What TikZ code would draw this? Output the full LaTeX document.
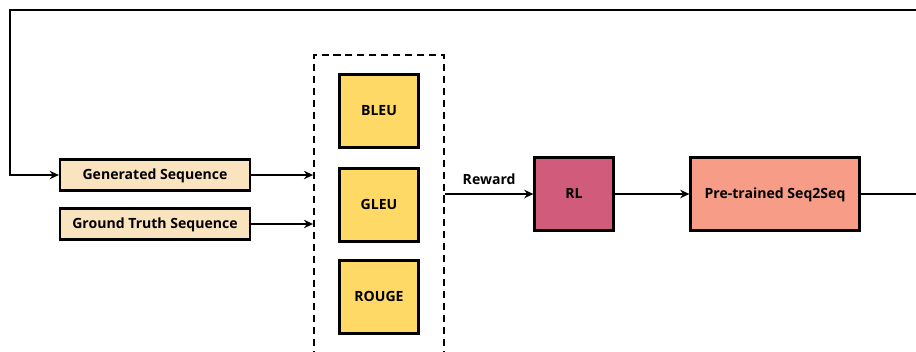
\documentclass[tikz,border=0pt]{standalone}
\usepackage{fontspec}
\setmainfont{Open Sans}
\usetikzlibrary{arrows.meta}

\definecolor{seqfill}{HTML}{FAE3BF}
\definecolor{metricfill}{HTML}{FFD966}
\definecolor{rlfill}{HTML}{D15B7A}
\definecolor{modelfill}{HTML}{F69C87}

\tikzset{
  box/.style={draw=black, line width=1.6pt, font=\bfseries\fontsize{10}{12}\selectfont,
    inner sep=0pt, text height=0.72em, text depth=0.12em},
  seqbox/.style={box, fill=seqfill, minimum width=190*0.025cm, minimum height=31*0.025cm},
  metricbox/.style={box, fill=metricfill, minimum width=79*0.025cm, minimum height=73*0.025cm},
  link/.style={line width=1.3pt, -{Stealth[length=6.5pt,width=6pt]}},
}

\begin{document}
\begin{tikzpicture}[x=0.025cm, y=-0.025cm]
    \useasboundingbox (0,0) rectangle (916,351);

    % inputs
    \node[seqbox] (gen) at (155,175) {Generated Sequence};
    \node[seqbox] (truth) at (155,224) {Ground Truth Sequence};

    % metric group, open at the bottom
    \node[draw, dashed, line width=1.3pt, dash pattern=on 5pt off 3.5pt,
          minimum width=130*0.025cm, minimum height=400*0.025cm] (metrics) at (379,255) {};
    \node[metricbox] (bleu) at (379,111) {BLEU};
    \node[metricbox] (gleu) at (379,205) {GLEU};
    \node[metricbox] (rouge) at (379,297) {ROUGE};

    % learner and model
    \node[box, fill=rlfill, minimum width=79*0.025cm, minimum height=73*0.025cm] (rl) at (574,194) {RL};
    \node[box, fill=modelfill, minimum width=169*0.025cm, minimum height=73*0.025cm] (model) at (775,194) {Pre-trained Seq2Seq};

    \coordinate (edge) at (918,194);
    \coordinate (top) at (10,10);

    \draw[link] (gen.east) -- (metrics.west |- gen.east);
    \draw[link] (truth.east) -- (metrics.west |- truth.east);
    \draw[link] (metrics.east |- rl.west) -- node[above=3pt, font=\bfseries\fontsize{10}{12}\selectfont] {Reward} (rl.west);
    \draw[link] (rl.east) -- (model.west);

    % feedback loop back to the generator input
    \draw[link] (model.east) -- (edge) |- (top) |- (gen.west);
\end{tikzpicture}
\end{document}
